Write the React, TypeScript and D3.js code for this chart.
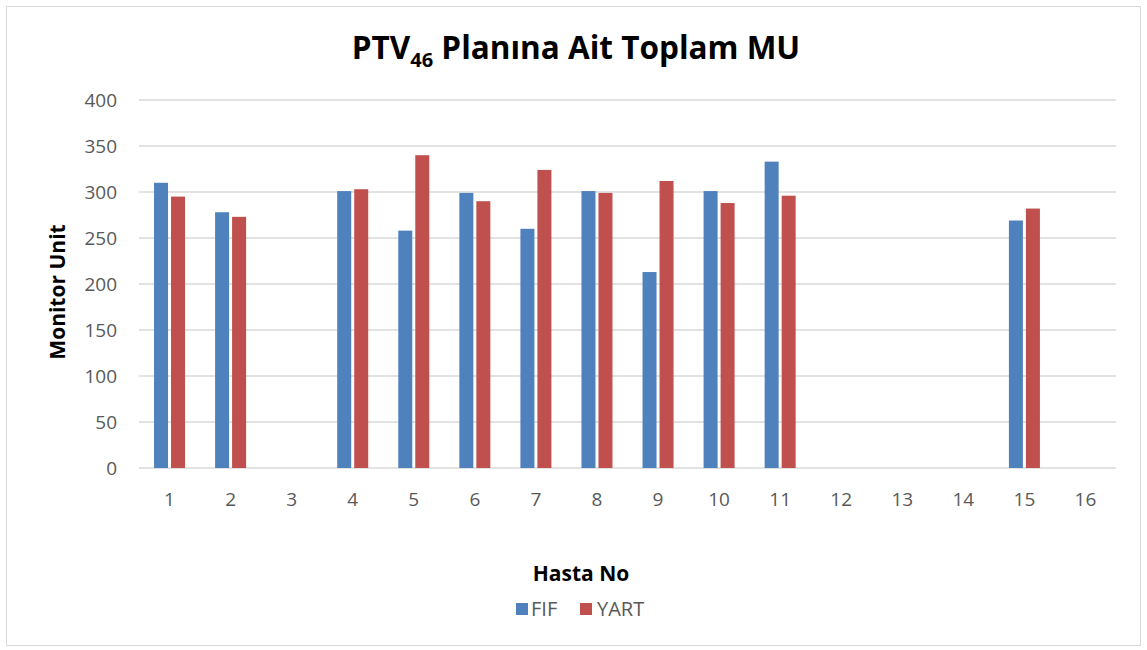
import React from 'react';
import * as d3 from 'd3';

const patients = ['1', '2', '3', '4', '5', '6', '7', '8', '9', '10', '11', '12', '13', '14', '15', '16'];
const fifValues: (number | null)[] = [310, 278, null, 301, 258, 299, 260, 301, 213, 301, 333, null, null, null, 269, null];
const yartValues: (number | null)[] = [295, 273, null, 303, 340, 290, 324, 299, 312, 288, 296, null, null, null, 282, null];
const yTicks = [0, 50, 100, 150, 200, 250, 300, 350, 400];

const FIF_COLOR = '#4f81bd';
const YART_COLOR = '#c0504d';
const font = '"Open Sans", "Liberation Sans", sans-serif';

const App = () => {
  const width = 1147;
  const height = 650;
  const left = 139;
  const right = 1116;
  const top = 100;
  const bottom = 468;

  const x = d3.scaleBand<string>().domain(patients).range([left, right]);
  const y = d3.scaleLinear().domain([0, 400]).range([bottom, top]);
  const barW = 14;
  const gap = 3;

  return (
    <svg width={width} height={height} style={{ position: 'absolute', left: 0, top: 0, fontFamily: font }}>
      <rect x={0} y={0} width={width} height={height} fill="#fff" />
      <rect x={6.5} y={6.5} width={1134} height={639} fill="none" stroke="#d9d9d9" strokeWidth={1} />

      <text x={576} y={59} textAnchor="middle" fontSize={31.5} fontWeight="bold" fill="#000">
        PTV<tspan fontSize={20} dy={8}>46</tspan>
        <tspan dy={-8}> Planına Ait Toplam MU</tspan>
      </text>

      {yTicks.map(t => (
        <g key={t}>
          <line x1={left} x2={right} y1={y(t)} y2={y(t)} stroke="#d9d9d9" strokeWidth={1.3} />
          <text x={117} y={y(t)} dy="0.35em" textAnchor="end" fontSize={19} fill="#595959">{t}</text>
        </g>
      ))}

      {patients.map((p, i) => {
        const cx = (x(p) ?? 0) + x.bandwidth() / 2;
        const f = fifValues[i];
        const r = yartValues[i];
        return (
          <g key={p}>
            {f != null && (
              <rect x={cx - gap / 2 - barW} y={y(f)} width={barW} height={bottom - y(f)} fill={FIF_COLOR} />
            )}
            {r != null && (
              <rect x={cx + gap / 2} y={y(r)} width={barW} height={bottom - y(r)} fill={YART_COLOR} />
            )}
            <text x={cx} y={499} dy="0.35em" textAnchor="middle" fontSize={19} fill="#595959">{p}</text>
          </g>
        );
      })}

      <text transform={`translate(58,${(top + bottom) / 2 + 8}) rotate(-90)`} textAnchor="middle" dy="0.35em"
        fontSize={21} fontWeight="bold" fill="#000">Monitor Unit</text>

      <text x={581} y={574} dy="0.35em" textAnchor="middle" fontSize={21} fontWeight="bold" fill="#000">Hasta No</text>

      <rect x={516} y={603} width={12} height={12} fill={FIF_COLOR} />
      <text x={531} y={609} dy="0.35em" fontSize={20} fill="#595959">FIF</text>
      <rect x={580} y={603} width={12} height={12} fill={YART_COLOR} />
      <text x={597} y={609} dy="0.35em" fontSize={20} fill="#595959">YART</text>
    </svg>
  );
};

export default App;
